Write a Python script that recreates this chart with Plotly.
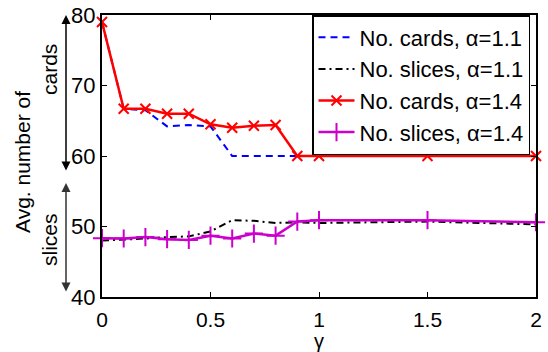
import plotly.graph_objects as go

gamma = [0, 0.1, 0.2, 0.3, 0.4, 0.5, 0.6, 0.7, 0.8, 0.9, 1.0, 1.5, 2.0]
cards_11 = [79, 66.7, 66.5, 64.2, 64.4, 64.2, 60, 60, 60, 60, 60, 60, 60]
slices_11 = [48.0, 48.1, 48.3, 48.5, 48.6, 49.3, 50.9, 50.8, 50.5, 50.6, 50.5, 50.7, 50.3]
cards_14 = [79, 66.7, 66.7, 66.0, 66.0, 64.5, 64.0, 64.3, 64.4, 60, 60, 60, 60]
slices_14 = [48.35, 48.3, 48.5, 48.2, 48.1, 48.7, 48.3, 49.0, 48.7, 50.7, 50.9, 50.9, 50.6]

names = ["No. cards, α=1.1", "No. slices, α=1.1", "No. cards, α=1.4", "No. slices, α=1.4"]
x_ticks = [0, 0.5, 1, 1.5, 2]
x_ticklabels = ["0", "0.5", "1", "1.5", "2"]
y_ticks = [40, 50, 60, 70, 80]

FONT = "Liberation Sans, Arial, Helvetica, sans-serif"

fig = go.Figure()
fig.add_trace(go.Scatter(x=gamma, y=cards_11, name=names[0], mode="lines",
                         line=dict(color="#0000ff", width=2, dash="7px,5px"),
                         legendgroup="a", cliponaxis=False))
fig.add_trace(go.Scatter(x=gamma, y=slices_11, name=names[1], mode="lines",
                         line=dict(color="black", width=2, dash="7px,4px,2px,4px"),
                         legendgroup="b", cliponaxis=False))
fig.add_trace(go.Scatter(x=gamma, y=cards_14, name=names[2], mode="lines+markers",
                         line=dict(color="#ff0000", width=2.5),
                         marker=dict(symbol="x-thin", size=10, color="#ff0000",
                                     line=dict(color="#ff0000", width=2)),
                         legendgroup="c", cliponaxis=False))
fig.add_trace(go.Scatter(x=gamma, y=slices_14, name=names[3], mode="lines+markers",
                         line=dict(color="#cc00cc", width=2.5),
                         marker=dict(symbol="cross-thin", size=13, color="#cc00cc",
                                     line=dict(color="#cc00cc", width=2)),
                         legendgroup="d", cliponaxis=False))

# plot area geometry (pixels)
L, R, T, B = 102, 12, 15, 55
W, H = 548, 352
pw, ph = W - L - R, H - T - B

def px_x(p):
    return (p - L) / pw

def px_y(p):
    return (H - B - p) / ph

annotations = []
# double-headed arrows
annotations.append(dict(x=px_x(66), y=px_y(15), xref="paper", yref="paper",
                        ax=0, ay=172 - 15, axref="pixel", ayref="pixel",
                        showarrow=True, arrowhead=2, startarrowhead=2, arrowside="end+start",
                        arrowwidth=1.5, arrowsize=1.2, startarrowsize=1.2,
                        arrowcolor="black", text=""))
annotations.append(dict(x=px_x(66), y=px_y(183), xref="paper", yref="paper",
                        ax=0, ay=293 - 183, axref="pixel", ayref="pixel",
                        showarrow=True, arrowhead=2, startarrowhead=2, arrowside="end+start",
                        arrowwidth=1.5, arrowsize=1.2, startarrowsize=1.2,
                        arrowcolor="#333333", text=""))
for txt, xp, yp in [("cards", 49, 70), ("slices", 49, 240), ("Avg. number of", 23, 162)]:
    annotations.append(dict(x=px_x(xp), y=px_y(yp), xref="paper", yref="paper",
                            xanchor="center", yanchor="middle",
                            text=txt, textangle=-90, showarrow=False,
                            font=dict(size=21, family=FONT, color="black")))
annotations.append(dict(x=0.5, y=px_y(341), xref="paper", yref="paper",
                        xanchor="center", yanchor="middle",
                        text="γ", showarrow=False,
                        font=dict(size=20, family=FONT, color="black")))

fig.update_layout(
    template="none",
    width=W, height=H,
    margin=dict(l=L, r=R, t=T, b=B, autoexpand=False),
    paper_bgcolor="white", plot_bgcolor="white",
    font=dict(family=FONT, size=21, color="black"),
    showlegend=True,
    legend=dict(x=px_x(312), y=1, xanchor="left", yanchor="top",
                bgcolor="white", bordercolor="black", borderwidth=1.5,
                font=dict(size=22, family=FONT), itemwidth=36,
                tracegroupgap=0, traceorder="grouped"),
    annotations=annotations,
    xaxis=dict(range=[0, 2], tickvals=x_ticks, ticktext=x_ticklabels,
               ticks="inside", ticklen=5, tickwidth=1, tickcolor="black",
               showline=True, linecolor="black", linewidth=2, mirror="ticks",
               showgrid=False, zeroline=False, automargin=False,
               ticklabelstandoff=3, tickfont=dict(size=21)),
    yaxis=dict(range=[40, 80], tickvals=y_ticks,
               ticks="inside", ticklen=5, tickwidth=1, tickcolor="black",
               showline=True, linecolor="black", linewidth=2, mirror="ticks",
               showgrid=False, zeroline=False, automargin=False,
               tickfont=dict(size=22)),
)

fig.write_html("out.html")
